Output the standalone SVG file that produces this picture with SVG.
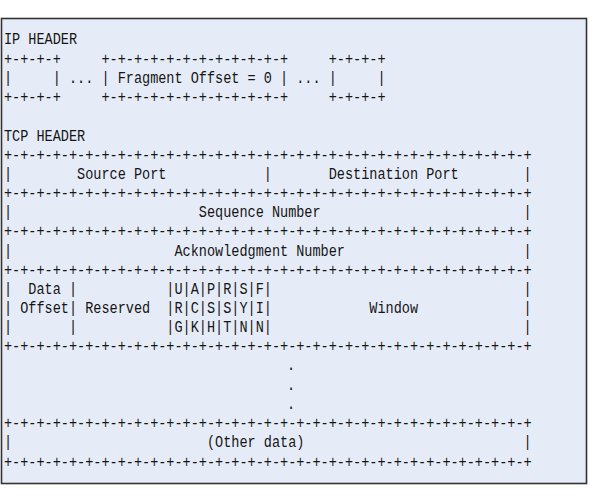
<svg xmlns="http://www.w3.org/2000/svg" width="596" height="502" viewBox="0 0 596 502" xml:space="preserve">
<style>
text{font-family:"Liberation Mono","DejaVu Sans Mono",monospace;font-size:13.54px;fill:#151515;white-space:pre}
</style>
<rect x="0" y="0" width="596" height="502" fill="#ffffff"/>
<rect x="1.5" y="18.5" width="585" height="465" fill="#e6ecf7" stroke="#333333" stroke-width="1.6"/>
<g id="ip-header">
<text transform="translate(4,44) scale(1,1.15)">IP HEADER</text>
<text transform="translate(4,63.8) scale(1,1.15)">+-+-+-+     +-+-+-+-+-+-+-+-+-+-+-+     +-+-+-+</text>
<text transform="translate(4,83) scale(1,1.15)">|     | ... | Fragment Offset = 0 | ... |     |</text>
<text transform="translate(4,102.2) scale(1,1.15)">+-+-+-+     +-+-+-+-+-+-+-+-+-+-+-+     +-+-+-+</text>
</g>
<g id="tcp-header">
<text transform="translate(4,140.5) scale(1,1.15)">TCP HEADER</text>
<text transform="translate(4,159.7) scale(1,1.15)">+-+-+-+-+-+-+-+-+-+-+-+-+-+-+-+-+-+-+-+-+-+-+-+-+-+-+-+-+-+-+-+-+</text>
<g id="ports">
<text transform="translate(4,178.8) scale(1,1.15)">|        Source Port            |       Destination Port        |</text>
</g>
<text transform="translate(4,198) scale(1,1.15)">+-+-+-+-+-+-+-+-+-+-+-+-+-+-+-+-+-+-+-+-+-+-+-+-+-+-+-+-+-+-+-+-+</text>
<g id="sequence">
<text transform="translate(4,217.2) scale(1,1.15)">|                       Sequence Number                         |</text>
</g>
<text transform="translate(4,236.4) scale(1,1.15)">+-+-+-+-+-+-+-+-+-+-+-+-+-+-+-+-+-+-+-+-+-+-+-+-+-+-+-+-+-+-+-+-+</text>
<g id="acknowledgment">
<text transform="translate(4,255.5) scale(1,1.15)">|                    Acknowledgment Number                      |</text>
</g>
<text transform="translate(4,274.7) scale(1,1.15)">+-+-+-+-+-+-+-+-+-+-+-+-+-+-+-+-+-+-+-+-+-+-+-+-+-+-+-+-+-+-+-+-+</text>
<g id="flags-window">
<text transform="translate(4,293.9) scale(1,1.15)">|  Data |           |U|A|P|R|S|F|                               |</text>
<text transform="translate(4,313.1) scale(1,1.15)">| Offset| Reserved  |R|C|S|S|Y|I|            Window             |</text>
<text transform="translate(4,332.2) scale(1,1.15)">|       |           |G|K|H|T|N|N|                               |</text>
</g>
<text transform="translate(4,351.4) scale(1,1.15)">+-+-+-+-+-+-+-+-+-+-+-+-+-+-+-+-+-+-+-+-+-+-+-+-+-+-+-+-+-+-+-+-+</text>
<g id="ellipsis">
<text transform="translate(287,370) scale(1,1.15)">.</text>
<text transform="translate(287,389.5) scale(1,1.15)">.</text>
<text transform="translate(287,409) scale(1,1.15)">.</text>
</g>
<text transform="translate(4,428.1) scale(1,1.15)">+-+-+-+-+-+-+-+-+-+-+-+-+-+-+-+-+-+-+-+-+-+-+-+-+-+-+-+-+-+-+-+-+</text>
<g id="other-data">
<text transform="translate(4,447.4) scale(1,1.15)">|                        (Other data)                           |</text>
</g>
<text transform="translate(4,466.6) scale(1,1.15)">+-+-+-+-+-+-+-+-+-+-+-+-+-+-+-+-+-+-+-+-+-+-+-+-+-+-+-+-+-+-+-+-+</text>
</g>
</svg>
